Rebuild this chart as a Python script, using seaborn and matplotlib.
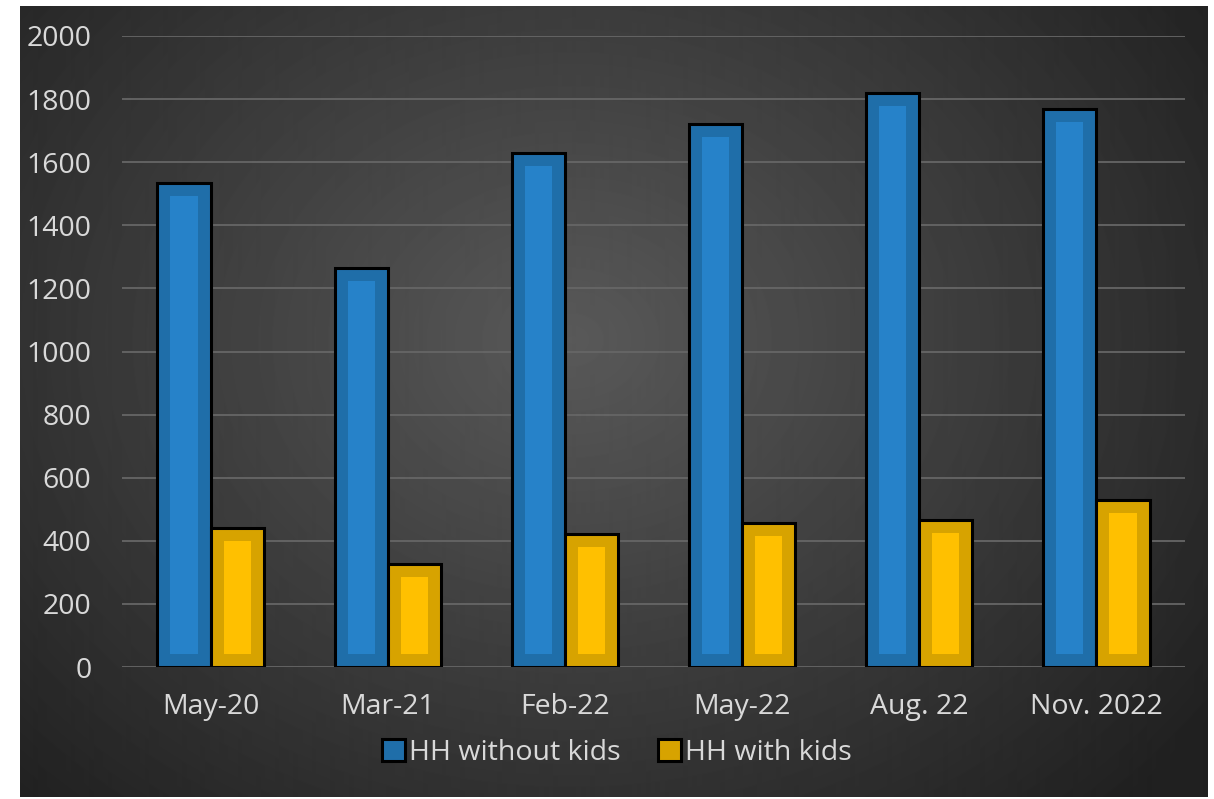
import numpy as np
import pandas as pd
import matplotlib
matplotlib.use("Agg")
import matplotlib.pyplot as plt
from matplotlib.patches import Rectangle, Patch
import seaborn as sns

# ---- data ----
categories = ["May-20", "Mar-21", "Feb-22", "May-22", "Aug. 22", "Nov. 2022"]
series_names = ["HH without kids", "HH with kids"]
without_kids = [1535, 1265, 1630, 1720, 1820, 1770]
with_kids = [440, 325, 420, 458, 465, 530]
y_ticks = [0, 200, 400, 600, 800, 1000, 1200, 1400, 1600, 1800, 2000]

df = pd.DataFrame({
    "period": categories * 2,
    "series": [series_names[0]] * len(categories) + [series_names[1]] * len(categories),
    "value": without_kids + with_kids,
})

outer_colors = ["#1f6ea9", "#d7a300"]
inner_colors = ["#2682c9", "#ffc000"]
text_color = "#d9d9d9"
fs = 20.5

sns.set_theme(style="white")
plt.rcParams["font.family"] = ["Open Sans", "DejaVu Sans"]

W, H, DPI = 1214, 799, 100
fig = plt.figure(figsize=(W / DPI, H / DPI), dpi=DPI, facecolor="white")

# background panel with radial gradient
bx0, by0, bx1, by1 = 20, 6, 1207, 797
bg = fig.add_axes([bx0 / W, 1 - by1 / H, (bx1 - bx0) / W, (by1 - by0) / H])
bg.set_zorder(-5)
yy, xx = np.mgrid[by0:by1, bx0:bx1]
r = np.sqrt(((xx - 570) / 800.0) ** 2 + ((yy - 340) / 650.0) ** 2)
r = np.clip(r, 0, 1)
val = (0x59 - (0x59 - 0x20) * r) / 255.0
bg.imshow(val, cmap="gray", vmin=0, vmax=1, aspect="auto", interpolation="bilinear")
bg.axis("off")

# main axes
ax_l, ax_r, ax_t, ax_b = 122, 1185, 36, 667
ax = fig.add_axes([ax_l / W, 1 - ax_b / H, (ax_r - ax_l) / W, (ax_b - ax_t) / H])
ax.set_facecolor("none")

sns.barplot(data=df, x="period", y="value", hue="series", order=categories,
            hue_order=series_names, palette=outer_colors, width=0.6, gap=0,
            edgecolor="black", linewidth=2.2, saturation=1, ax=ax, legend=False,
            zorder=3)

ax.set_ylim(0, 2000)
ax.set_xlim(-0.5, len(categories) - 0.5)
ax.set_yticks(y_ticks)
ax.yaxis.grid(True, color="#666666", linewidth=1.3, zorder=0)
ax.set_axisbelow(True)
for s in ax.spines.values():
    s.set_visible(False)
ax.set_xlabel("")
ax.set_ylabel("")
ax.tick_params(axis="y", length=0, pad=22, labelsize=fs, labelcolor=text_color)
ax.tick_params(axis="x", length=0, pad=19, labelsize=fs, labelcolor=text_color)

# inner highlight rectangles (inset derived from bar patches)
px_per_x = (ax_r - ax_l) / len(categories)
px_per_y = (ax_b - ax_t) / 2000.0
ix = 13 / px_per_x
iy = 13 / px_per_y
bars = [p for p in ax.patches if isinstance(p, Rectangle) and p.get_height() > 0]
n = len(categories)
for i, p in enumerate(bars):
    k = 0 if i < n else 1
    x, y0 = p.get_x(), p.get_y()
    w, h = p.get_width(), p.get_height()
    ax.add_patch(Rectangle((x + ix, y0 + iy), w - 2 * ix, h - 2 * iy,
                           facecolor=inner_colors[k], edgecolor="none", zorder=4))

handles = [Patch(facecolor=outer_colors[0], edgecolor="black", linewidth=2.2),
           Patch(facecolor=outer_colors[1], edgecolor="black", linewidth=2.2)]
fig.legend(handles, series_names, loc="center", bbox_to_anchor=(617 / W, 1 - 753 / H),
           ncol=2, frameon=False, fontsize=fs, labelcolor=text_color,
           handlelength=0.8, handleheight=0.8, handletextpad=0.15,
           columnspacing=1.3, borderaxespad=0)

fig.savefig("out.png", dpi=DPI, facecolor="white")
